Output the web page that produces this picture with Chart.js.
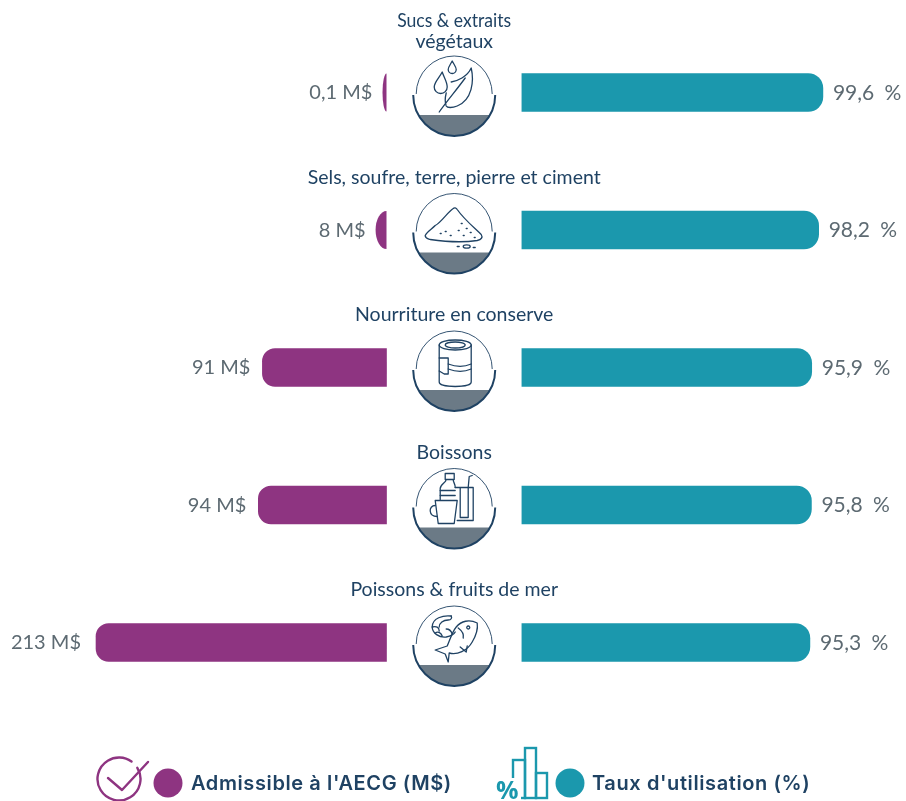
<!DOCTYPE html>
<html lang="fr">
<head>
<meta charset="utf-8">
<style>html,body{margin:0;padding:0;background:#fff}canvas{display:block}</style>
<script src="https://cdn.jsdelivr.net/npm/chart.js@4"></script>
</head>
<body>
<canvas id="c" width="906" height="801"></canvas>
<script>
const categories = [['Sucs & extraits','végétaux'],['Sels, soufre, terre, pierre et ciment'],['Nourriture en conserve'],['Boissons'],['Poissons & fruits de mer']];
const admissible = [0.1, 8, 91, 94, 213];
const utilisation = [99.6, 98.2, 95.9, 95.8, 95.3];
const seriesNames = ["Admissible à l'AECG (M$)", "Taux d'utilisation (%)"];
const PURPLE = '#8e3481', TEAL = '#1b98ad', NAVY = '#1f4263', GREY = '#5d6a72', SLATE = '#6b7a86';
const fr = v => String(v).replace('.', ',');

// Very short bars end in a half ellipse, as in the reference
const baseDraw = Chart.BarElement.prototype.draw;
Chart.BarElement.prototype.draw = function (ctx) {
  const {x, y, base, height} = this.getProps(['x', 'y', 'base', 'height']);
  const w = Math.abs(x - base);
  if (w >= 26) return baseDraw.call(this, ctx);
  ctx.save();
  ctx.fillStyle = this.options.backgroundColor;
  ctx.beginPath();
  ctx.ellipse(base, y, w, height / 2, 0, Math.PI / 2, Math.PI * 1.5);
  ctx.closePath();
  ctx.fill();
  ctx.restore();
};

const iconPaths = [
  ['M-12 -23C-15 -17 -20 -13 -20 -8A6.5 6.5 0 0 0 -7 -8C-7 -13 -10 -17 -12 -23Z',
   'M-2 -34C-4 -30 -6 -28 -6 -25.5A4 4 0 0 0 2 -25.5C2 -28 0 -30 -2 -34Z',
   'M-3 -13C3 -14 13 -18 17 -27C20 -14 18 5 3 11C-2 13 -7 13 -8 11C-10 6 -9 2 -8 -2',
   'M-15 17C-8 7 3 -6 11 -17'],
  ['M-1 -24C-7 -20 -13 -10 -19 -7C-23 -3 -27 -1 -29 3C-29 6 -27 6 -24 7C-10 9 10 10 23 8C27 7 29 5 27 2C20 -5 10 -13 3 -23C2 -25 0 -25 -1 -24Z',
   'M9 14A3.5 1.7 0 1 0 16 14A3.5 1.7 0 1 0 9 14Z',
   'M-9 -1h1M-14 1h1M-4 3h1M4 -2h1M9 3h1M12 -4h1M16 0h1M7 -9h1M20 5h1M3 14h2M19 15h2'],
  ['M-15 -25A16 5 0 1 1 17 -25A16 5 0 1 1 -15 -25Z',
   'M-9 -25A10 3 0 1 1 11 -25A10 3 0 1 1 -9 -25Z',
   'M-15 -25V12C-15 18 17 18 17 12V-25',
   'M-15 -12H-6V4H-10L-15 1',
   'M-6 -6C2 -3 10 -3 17 -6M-6 -1C2 2 10 2 17 -1'],
  ['M-9 -34H0V-28H-9ZM-8 -28C-8 -25 -14 -23 -14 -19V-8M-1 -28C-1 -25 1 -24 1 -20',
   'M-14 -17H1M-14 -12H1',
   'M-19 -7H3L0 16H-16Z',
   'M-19 -2C-26 -2 -26 9 -17 9',
   'M1 -20H19V13H3M6 -20V10M14 -20V10H6',
   'M14 -20L15 -31L18 -32'],
  ['M23 -22C15 -26 7 -24 2 -18C-2 -13 -4 -6 -7 1L-19 5L-9 9L-6 17L-5 8C3 10 13 6 18 -3C21 -8 24 -15 23 -22Z',
   'M4 -17C8 -14 10 -11 9 -7M14 -16A1.5 1.5 0 1 1 14.1 -16ZM6 2L12 7L13 1',
   'M-3 -29C-11 -30 -22 -27 -22 -18C-22 -12 -15 -7 -8 -8C-3 -9 0 -11 1 -13',
   'M-3 -29C-2 -27 -3 -25 -6 -25C-11 -25 -15 -22 -15 -18M-22 -18C-18 -19 -15 -18 -15 -14M-19 -12C-16 -14 -13 -12 -12 -9M-8 -16C-5 -16 -3 -14 -2 -11']
];

const overlay = {
  id: 'overlay',
  afterDatasetsDraw(chart) {
    const {ctx} = chart;
    const y = chart.scales.y, xl = chart.scales.xl, xr = chart.scales.xr;
    const midX = (xl.getPixelForValue(0) + xr.getPixelForValue(0)) / 2;
    const leftGaps = [14, 10, 12, 12, 15];
    ctx.save();
    categories.forEach((lines, i) => {
      const cy = y.getPixelForValue(i);
      // value labels
      ctx.fillStyle = GREY;
      ctx.font = '400 20px Lato';
      ctx.textBaseline = 'middle';
      ctx.textAlign = 'right';
      ctx.fillText(fr(admissible[i]) + ' M$', xl.getPixelForValue(admissible[i]) - leftGaps[i], cy + 0.5);
      ctx.textAlign = 'left';
      ctx.font = '400 21px Lato';
      ctx.wordSpacing = '5px';
      ctx.fillText(fr(utilisation[i]) + ' %', xr.getPixelForValue(utilisation[i]) + 10, cy + 0.5);
      ctx.wordSpacing = '0px';
      // category titles
      ctx.fillStyle = NAVY;
      ctx.font = '400 19.5px Lato';
      ctx.textAlign = 'center';
      const first = lines.length > 1 ? cy - 72 : cy - 52.5;
      lines.forEach((t, k) => ctx.fillText(t, midX, first + k * 21, lines.length > 1 && k === 0 ? 114 : 1000));
      // icon badge
      ctx.save();
      ctx.translate(midX, cy + 2.5);
      ctx.save();
      ctx.beginPath();
      ctx.arc(0, 0, 41, 0, Math.PI * 2);
      ctx.clip();
      ctx.fillStyle = SLATE;
      ctx.fillRect(-42, 20, 84, 24);
      ctx.restore();
      ctx.strokeStyle = NAVY;
      ctx.lineWidth = 2;
      ctx.beginPath();
      ctx.arc(0, 0, 41, 0, Math.PI);
      ctx.stroke();
      ctx.lineWidth = 0.9;
      ctx.beginPath();
      ctx.arc(0, -1, 38, Math.PI, Math.PI * 2);
      ctx.stroke();
      ctx.lineWidth = 1.3;
      ctx.lineCap = 'round';
      ctx.lineJoin = 'round';
      iconPaths[i].forEach(d => ctx.stroke(new Path2D(d)));
      ctx.restore();
    });
    // legend
    ctx.lineCap = 'round';
    ctx.lineJoin = 'round';
    ctx.strokeStyle = PURPLE;
    ctx.lineWidth = 2.4;
    ctx.beginPath();
    ctx.arc(119, 779, 21.5, -0.55, Math.PI * 2 - 0.95);
    ctx.stroke();
    ctx.beginPath();
    ctx.moveTo(108, 778); ctx.lineTo(122, 790); ctx.lineTo(148, 762);
    ctx.stroke();
    ctx.fillStyle = PURPLE;
    ctx.beginPath(); ctx.arc(168, 783, 14.5, 0, Math.PI * 2); ctx.fill();
    ctx.fillStyle = TEAL;
    ctx.beginPath(); ctx.arc(570, 783, 14.5, 0, Math.PI * 2); ctx.fill();
    ctx.strokeStyle = TEAL;
    ctx.lineJoin = 'miter';
    ctx.lineWidth = 2.4;
    ctx.strokeRect(513, 760, 12, 38);
    ctx.strokeRect(525, 748, 11, 50);
    ctx.strokeRect(536, 773, 11, 25);
    ctx.fillStyle = '#fff';
    ctx.fillRect(495, 778, 26, 22);
    ctx.fillStyle = TEAL;
    ctx.font = '700 25px "Open Sans"';
    ctx.textAlign = 'left';
    ctx.textBaseline = 'alphabetic';
    ctx.fillText('%', 496, 799);
    ctx.fillStyle = NAVY;
    ctx.font = '600 20px Inter';
    ctx.letterSpacing = '0.6px';
    ctx.fillText(seriesNames[0], 191, 790);
    ctx.fillText(seriesNames[1], 592, 790);
    ctx.letterSpacing = '0px';
    ctx.restore();
  }
};

new Chart(document.getElementById('c'), {
  type: 'bar',
  data: {
    labels: categories.map(l => l.join(' ')),
    datasets: [
      {label: seriesNames[0], data: admissible, xAxisID: 'xl', backgroundColor: PURPLE, minBarLength: 4, borderRadius: 13},
      {label: seriesNames[1], data: utilisation, xAxisID: 'xr', backgroundColor: TEAL, borderRadius: 15}
    ]
  },
  options: {
    indexAxis: 'y',
    responsive: false,
    animation: false,
    layout: {padding: {top: 23.75, bottom: 89.75, left: 0, right: 0}},
    datasets: {bar: {grouped: false, barThickness: 38, borderSkipped: 'start', borderWidth: 0}},
    plugins: {legend: {display: false}, tooltip: {enabled: false}},
    scales: {
      y: {display: false, type: 'category'},
      xl: {display: false, type: 'linear', reverse: true, min: -380.9, max: 283.4},
      xr: {display: false, type: 'linear', min: -172.7, max: 127.1}
    }
  },
  plugins: [overlay]
});
</script>
</body>
</html>
